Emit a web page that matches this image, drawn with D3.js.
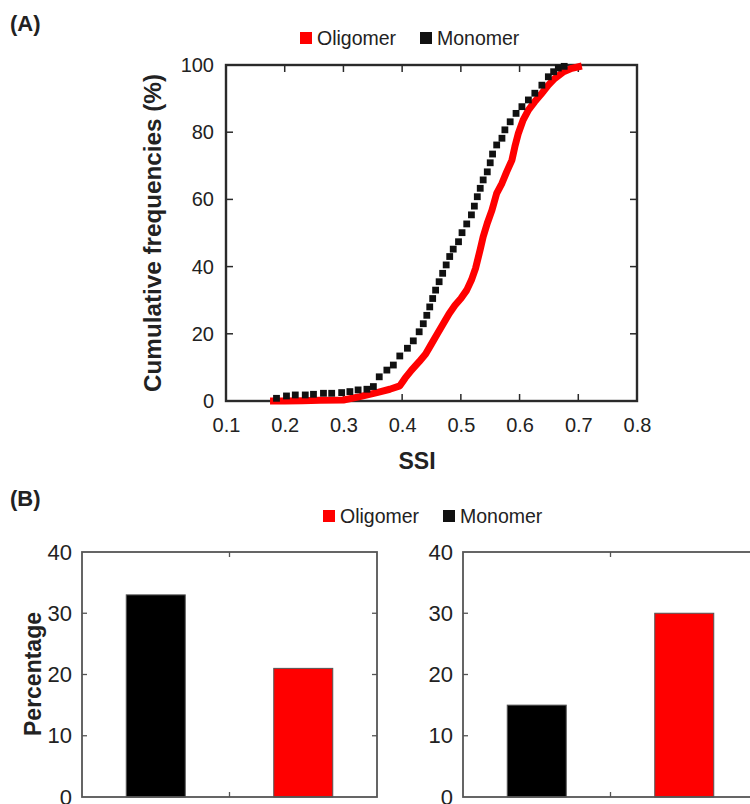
<!DOCTYPE html>
<html>
<head>
<meta charset="utf-8">
<script src="https://cdn.jsdelivr.net/npm/d3@7"></script>
<style>
  body { margin: 0; background: #fff; }
  svg { display: block; font-family: 'Liberation Sans', Arial, sans-serif; }
</style>
</head>
<body>
<div id="chart"></div>
<script>
// cumulative frequency data (SSI, %)
let monomerSSI = [0.186, 0.203, 0.218, 0.235, 0.249, 0.266, 0.280, 0.297, 0.311, 0.325, 0.340, 0.351, 0.361, 0.374, 0.385, 0.396, 0.409, 0.419, 0.429, 0.436, 0.442, 0.447, 0.452, 0.457, 0.463, 0.469, 0.475, 0.481, 0.487, 0.496, 0.502, 0.510, 0.518, 0.523, 0.528, 0.533, 0.538, 0.545, 0.550, 0.554, 0.561, 0.570, 0.575, 0.584, 0.594, 0.604, 0.615, 0.626, 0.638, 0.649, 0.658, 0.666, 0.676]
let monomerFreq = [0.8, 1.5, 1.8, 1.8, 2.0, 2.3, 2.3, 2.5, 2.8, 3.3, 3.5, 4.3, 7.2, 9.2, 10.7, 13.4, 15.7, 17.9, 20.6, 23.0, 25.5, 28.0, 30.5, 33.0, 35.5, 38.0, 40.5, 43.0, 45.2, 47.4, 50.1, 52.7, 55.4, 58.0, 60.8, 63.3, 65.8, 68.2, 70.9, 73.5, 76.2, 78.2, 80.7, 83.1, 85.6, 87.6, 89.6, 91.6, 94.0, 96.5, 98.0, 99.1, 99.6]
let oligomerSSI = [0.175, 0.200, 0.230, 0.260, 0.300, 0.328, 0.357, 0.379, 0.396, 0.405, 0.416, 0.429, 0.440, 0.450, 0.460, 0.470, 0.480, 0.490, 0.500, 0.510, 0.518, 0.525, 0.533, 0.538, 0.545, 0.553, 0.561, 0.570, 0.578, 0.587, 0.592, 0.598, 0.606, 0.615, 0.626, 0.638, 0.649, 0.660, 0.675, 0.689, 0.706]
let oligomerFreq = [0, 0, 0.1, 0.2, 0.3, 1.3, 2.5, 3.5, 4.5, 6.8, 9.2, 11.7, 14.0, 17.0, 20.0, 23.0, 26.0, 28.5, 30.5, 33.0, 36.0, 39.5, 45.1, 48.9, 52.9, 56.8, 61.8, 64.8, 68.2, 71.7, 75.7, 79.7, 83.6, 86.6, 89.1, 91.6, 94.0, 96.0, 98.0, 99.0, 99.7]
let ssiTicks = [0.1, 0.2, 0.3, 0.4, 0.5, 0.6, 0.7, 0.8]
let freqTicks = [0, 20, 40, 60, 80, 100]

// panel B bar data
let barGroups = ['Monomer', 'Oligomer']
let leftPercent = [33, 21]
let rightPercent = [15, 30]
let pctTicks = [0, 10, 20, 30, 40]

let seriesNames = ['Oligomer', 'Monomer']
let seriesColors = { Oligomer: '#ff0000', Monomer: '#111111' }

let width = 750
let height = 804
let frameColor = '#2a2a2a'

let svg = d3.select('#chart').append('svg')
  .attr('width', width)
  .attr('height', height)

function legend (g, x0, y0) {
  let pos = [x0, x0 + 120]
  seriesNames.forEach((name, i) => {
    g.append('rect')
      .attr('x', pos[i]).attr('y', y0 - 6)
      .attr('width', 12).attr('height', 12)
      .attr('fill', seriesColors[name])
    g.append('text')
      .attr('x', pos[i] + 17).attr('y', y0)
      .attr('dy', '0.35em')
      .attr('font-size', 19.5)
      .attr('fill', '#222')
      .text(name)
  })
}

// ---------- panel A ----------
let a = { left: 226, right: 637, top: 65, bottom: 401 }
let x = d3.scaleLinear().domain([0.1, 0.8]).range([a.left, a.right])
let y = d3.scaleLinear().domain([0, 100]).range([a.bottom, a.top])

let pa = svg.append('g').attr('class', 'panel-a')

pa.append('text').attr('x', 10).attr('y', 31)
  .attr('font-size', 22).attr('font-weight', 'bold').attr('fill', '#222').text('(A)')
legend(pa, 300, 38)

pa.append('g').attr('transform', 'translate(0,' + a.bottom + ')')
  .call(d3.axisBottom(x).tickValues(ssiTicks).tickSize(0).tickPadding(17).tickFormat(d3.format('.1f')))
  .call(g => g.select('.domain').remove())
  .selectAll('text').attr('font-size', 20).attr('fill', '#222').attr('font-family', 'Liberation Sans, Arial')
pa.append('g').attr('transform', 'translate(' + a.left + ',0)')
  .call(d3.axisLeft(y).tickValues(freqTicks).tickSize(0).tickPadding(12))
  .call(g => g.select('.domain').remove())
  .selectAll('text').attr('font-size', 20).attr('fill', '#222').attr('font-family', 'Liberation Sans, Arial')

// inner ticks on all four sides
let tickLen = 7
let ta = pa.append('g').attr('stroke', frameColor).attr('stroke-width', 1.5)
ta.selectAll('.xb').data(ssiTicks.slice(1, -1)).enter().append('line')
  .attr('x1', d => x(d)).attr('x2', d => x(d))
  .attr('y1', a.bottom).attr('y2', a.bottom - tickLen)
ta.selectAll('.xt').data(ssiTicks.slice(1, -1)).enter().append('line')
  .attr('x1', d => x(d)).attr('x2', d => x(d))
  .attr('y1', a.top).attr('y2', a.top + tickLen)
ta.selectAll('.yl').data(freqTicks.slice(1, -1)).enter().append('line')
  .attr('x1', a.left).attr('x2', a.left + tickLen)
  .attr('y1', d => y(d)).attr('y2', d => y(d))
ta.selectAll('.yr').data(freqTicks.slice(1, -1)).enter().append('line')
  .attr('x1', a.right).attr('x2', a.right - tickLen)
  .attr('y1', d => y(d)).attr('y2', d => y(d))

pa.append('rect')
  .attr('x', a.left).attr('y', a.top)
  .attr('width', a.right - a.left).attr('height', a.bottom - a.top)
  .attr('fill', 'none').attr('stroke', frameColor).attr('stroke-width', 2.4)

let oligomer = oligomerSSI.map((s, i) => ({ s: s, f: oligomerFreq[i] }))
let monomer = monomerSSI.map((s, i) => ({ s: s, f: monomerFreq[i] }))

pa.append('path')
  .datum(oligomer)
  .attr('d', d3.line().x(d => x(d.s)).y(d => y(d.f)))
  .attr('fill', 'none')
  .attr('stroke', seriesColors.Oligomer)
  .attr('stroke-width', 7)
  .attr('stroke-linejoin', 'round')

pa.selectAll('.mono').data(monomer).enter().append('rect')
  .attr('class', 'mono')
  .attr('x', d => x(d.s) - 3.4).attr('y', d => y(d.f) - 3.4)
  .attr('width', 6.8).attr('height', 6.8)
  .attr('fill', seriesColors.Monomer)

pa.append('text')
  .attr('x', 417).attr('y', 469)
  .attr('text-anchor', 'middle')
  .attr('font-size', 23).attr('font-weight', 'bold').attr('fill', '#222')
  .text('SSI')
pa.append('text')
  .attr('transform', 'translate(161,233) rotate(-90)')
  .attr('text-anchor', 'middle')
  .attr('font-size', 23).attr('font-weight', 'bold').attr('fill', '#222')
  .attr('textLength', 318).attr('lengthAdjust', 'spacingAndGlyphs')
  .text('Cumulative frequencies (%)')

// ---------- panel B ----------
let pb = svg.append('g').attr('class', 'panel-b')
pb.append('text').attr('x', 10).attr('y', 506)
  .attr('font-size', 22).attr('font-weight', 'bold').attr('fill', '#222').text('(B)')
legend(pb, 323, 516)

let yb = d3.scaleLinear().domain([0, 40]).range([797, 552])

function barPanel (left, values) {
  let right = left + 295
  let g = pb.append('g')
  let xb = d3.scaleBand().domain(barGroups).range([left, right])
    .paddingInner(0.6).paddingOuter(0.3)

  g.append('g').attr('transform', 'translate(' + left + ',0)')
    .call(d3.axisLeft(yb).tickValues(pctTicks).tickSize(0).tickPadding(10))
    .call(s => s.select('.domain').remove())
    .selectAll('text').attr('font-size', 22).attr('fill', '#222').attr('font-family', 'Liberation Sans, Arial')

  g.selectAll('.bar').data(barGroups).enter().append('rect')
    .attr('class', 'bar')
    .attr('x', d => xb(d)).attr('width', xb.bandwidth())
    .attr('y', (d, i) => yb(values[i]))
    .attr('height', (d, i) => yb(0) - yb(values[i]))
    .attr('fill', d => d === 'Oligomer' ? '#ff0000' : '#000')
    .attr('stroke', '#555').attr('stroke-width', 1)

  let mid = (left + right) / 2
  let tg = g.append('g').attr('stroke', '#555').attr('stroke-width', 1.3)
  tg.selectAll('.yl').data(pctTicks.slice(1, -1)).enter().append('line')
    .attr('x1', left).attr('x2', left + 5)
    .attr('y1', d => yb(d)).attr('y2', d => yb(d))
  tg.selectAll('.yr').data(pctTicks.slice(1, -1)).enter().append('line')
    .attr('x1', right).attr('x2', right - 5)
    .attr('y1', d => yb(d)).attr('y2', d => yb(d))
  tg.append('line').attr('x1', mid).attr('x2', mid).attr('y1', yb(40)).attr('y2', yb(40) + 5)
  tg.append('line').attr('x1', mid).attr('x2', mid).attr('y1', yb(0)).attr('y2', yb(0) - 5)

  g.append('rect')
    .attr('x', left).attr('y', yb(40))
    .attr('width', right - left).attr('height', yb(0) - yb(40))
    .attr('fill', 'none').attr('stroke', '#555').attr('stroke-width', 1.8)
}

barPanel(82, leftPercent)
barPanel(463, rightPercent)

pb.append('text')
  .attr('transform', 'translate(41,674) rotate(-90)')
  .attr('text-anchor', 'middle')
  .attr('font-size', 23).attr('font-weight', 'bold').attr('fill', '#222')
  .text('Percentage')
</script>
</body>
</html>
